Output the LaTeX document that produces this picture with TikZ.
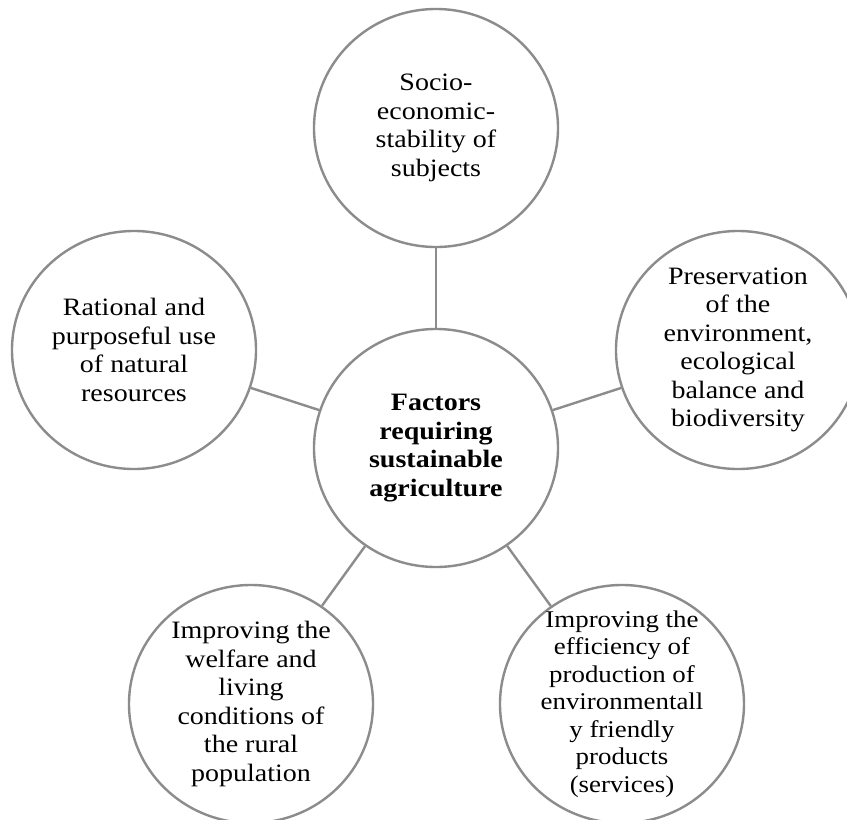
\documentclass[tikz,border=0pt]{standalone}
\usepackage{fontspec}
\setmainfont{Liberation Serif}[FakeStretch=1.12]
\usetikzlibrary{shapes.geometric}
\tikzset{
  bubble/.style={ellipse, draw=linegray, line width=2.4pt, minimum width=244pt, minimum height=238pt, inner sep=0pt, fill=white},
  label/.style={align=center, font=\fontsize{25}{28.5}\selectfont, inner sep=0pt},
  smalllabel/.style={align=center, font=\fontsize{24}{27.5}\selectfont, inner sep=0pt},
  link/.style={draw=linegray, line width=2.4pt}
}
\definecolor{linegray}{RGB}{140,140,140}
\begin{document}
\begin{tikzpicture}[x=1pt,y=-1pt]
\clip (0,0) rectangle (847,820);
\fill[white] (0,0) rectangle (847,820);
\node[bubble] (C) at (436,448) {};
\node[bubble] (T) at (436,128) {};
\node[bubble] (L) at (134,350) {};
\node[bubble] (R) at (738,350) {};
\node[bubble] (BL) at (251,704) {};
\node[bubble] (BR) at (622,704) {};
\draw[link] (C) -- (T);
\draw[link] (C) -- (L);
\draw[link] (C) -- (R);
\draw[link] (C) -- (BL);
\draw[link] (C) -- (BR);
\node[label] (tC) at (C.center) {\bfseries Factors\\\bfseries requiring\\\bfseries sustainable\\\bfseries agriculture};
\node[label] (tT) at (T.center) {Socio-\\economic-\\stability of\\subjects};
\node[label] (tL) at (L.center) {Rational and\\purposeful use\\of natural\\resources};
\node[label] (tR) at (R.center) {Preservation\\of the\\environment,\\ecological\\balance and\\biodiversity};
\node[label] (tBL) at (BL.center) {Improving the\\welfare and\\living\\conditions of\\the rural\\population};
\node[smalllabel] (tBR) at (BR.center) {Improving the\\efficiency of\\production of\\environmentall\\y friendly\\products\\(services)};
\end{tikzpicture}
\end{document}
